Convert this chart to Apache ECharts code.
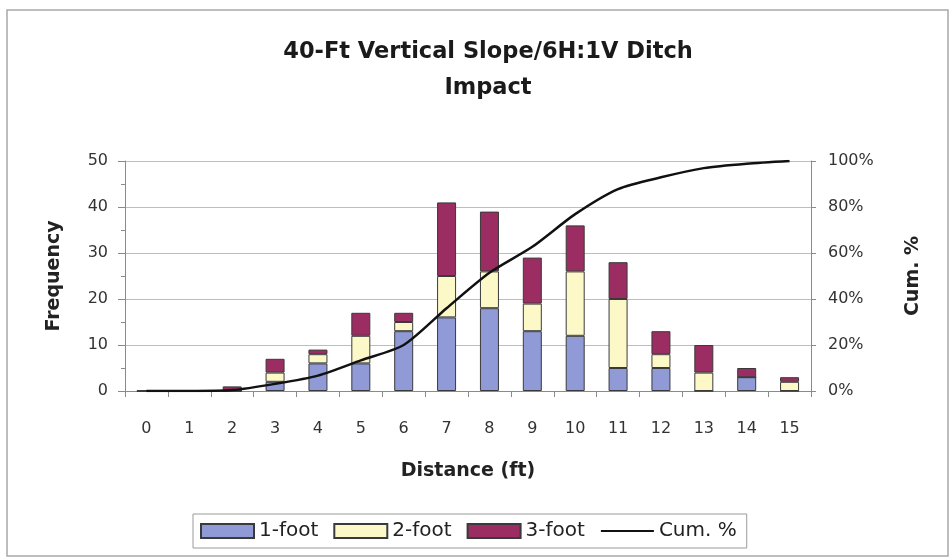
<!DOCTYPE html>
<html>
<head>
<meta charset="utf-8">
<script src="https://cdn.jsdelivr.net/npm/echarts@6/dist/echarts.min.js"></script>
<style>html,body{margin:0;padding:0;background:#fff}#c{width:951px;height:560px}</style>
</head>
<body>
<div id="c"></div>
<script>
var categories = ['0','1','2','3','4','5','6','7','8','9','10','11','12','13','14','15'];
var oneFoot   = [0,0,0,2,6,6,13,16,18,13,12,5,5,0,3,0];
var twoFoot   = [0,0,0,2,2,6,2,9,8,6,14,15,3,4,0,2];
var threeFoot = [0,0,1,3,1,5,2,16,13,10,10,8,5,6,2,1];
var cumPct    = [0,0,0.4,3.1,6.7,13.3,20,36,51.4,62.7,76.9,87.8,92.9,96.9,98.8,100];
var leftTicks = [0,10,20,30,40,50];
var rightTicks = [0,20,40,60,80,100];

var FONT = '"DejaVu Sans", "Liberation Sans", Arial, sans-serif';
var chart = echarts.init(document.getElementById('c'));
var barBorder = {borderColor:'#3a3a3a', borderWidth:1};
chart.setOption({
  animation:false,
  textStyle:{fontFamily:FONT},
  graphic:[{type:'rect', shape:{x:7,y:10,width:941,height:546}, style:{fill:'none', stroke:'#a8a8a8', lineWidth:1.5}, z:-1}],
  title:{
    text:'40-Ft Vertical Slope/6H:1V Ditch\nImpact',
    left:483, top:29, textAlign:'center',
    textStyle:{fontFamily:FONT, fontSize:22.5, fontWeight:'bold', color:'#1a1a1a', lineHeight:36}
  },
  legend:{
    left:193, top:514,
    borderColor:'#9a9a9a', borderWidth:1, padding:[7,10,7,7],
    itemWidth:53, itemHeight:14, itemGap:15,
    textStyle:{fontFamily:FONT, fontSize:20, color:'#222'},
    data:[{name:'1-foot', icon:'rect'},{name:'2-foot', icon:'rect'},{name:'3-foot', icon:'rect'},{name:'Cum. %', itemStyle:{opacity:0}}]
  },
  grid:{left:125, right:140, top:161, bottom:169, containLabel:false},
  xAxis:{
    type:'category', data:categories,
    name:'Distance (ft)', nameLocation:'middle', nameGap:71,
    nameTextStyle:{fontFamily:FONT, fontSize:19, fontWeight:'bold', color:'#222'},
    axisLine:{lineStyle:{color:'#8a8a8a'}},
    axisTick:{show:true, length:6, lineStyle:{color:'#8a8a8a'}},
    axisLabel:{fontFamily:FONT, fontSize:16, color:'#333', margin:30}
  },
  yAxis:[{
    type:'value', min:0, max:50, interval:10,
    name:'Frequency', nameLocation:'middle', nameGap:61, nameRotate:90,
    nameTextStyle:{fontFamily:FONT, fontSize:19, fontWeight:'bold', color:'#222'},
    axisLine:{show:true, lineStyle:{color:'#8a8a8a'}},
    axisTick:{show:true, length:7, lineStyle:{color:'#8a8a8a'}},
    minorTick:{show:true, splitNumber:2, length:4, lineStyle:{color:'#8a8a8a'}},
    axisLabel:{fontFamily:FONT, fontSize:16, color:'#333', margin:17,
      formatter:function(v){return leftTicks.indexOf(v)>=0?String(v):'';}},
    splitLine:{show:true, lineStyle:{color:'#bdbdbd', width:1}}
  },{
    type:'value', min:0, max:100, interval:20, position:'right',
    name:'Cum. %', nameLocation:'middle', nameGap:93, nameRotate:90,
    nameTextStyle:{fontFamily:FONT, fontSize:19, fontWeight:'bold', color:'#222'},
    axisLine:{show:true, lineStyle:{color:'#8a8a8a'}},
    axisTick:{show:true, length:5, lineStyle:{color:'#8a8a8a'}},
    axisLabel:{fontFamily:FONT, fontSize:16, color:'#333', margin:17,
      formatter:function(v){return rightTicks.indexOf(v)>=0?v+'%':'';}},
    splitLine:{show:false}
  }],
  series:[
    {name:'1-foot', type:'bar', stack:'f', data:oneFoot, barWidth:19, itemStyle:Object.assign({color:'#8f9ad6'},barBorder)},
    {name:'2-foot', type:'bar', stack:'f', data:twoFoot, barWidth:19, itemStyle:Object.assign({color:'#fdf8c8'},barBorder)},
    {name:'3-foot', type:'bar', stack:'f', data:threeFoot, barWidth:19, itemStyle:Object.assign({color:'#9b2d62'},barBorder)},
    {name:'Cum. %', type:'line', yAxisIndex:1, data:cumPct, smooth:0.25, showSymbol:false, symbol:'none',
      lineStyle:{color:'#111', width:2.5}, itemStyle:{color:'#111'}, z:5}
  ]
});
</script>
</body>
</html>
